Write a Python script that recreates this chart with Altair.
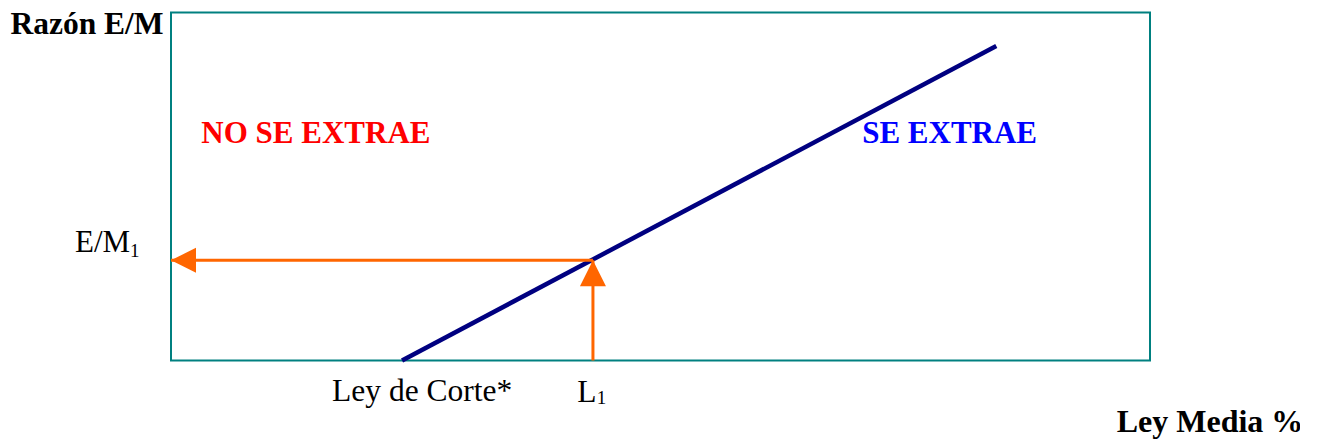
import altair as alt
import pandas as pd

# Values (x: Ley Media %, y: Razón E/M, both on 0-100 scales)
line_x = [23.6, 84.3]
line_y = [0.0, 90.4]
l1_x = 43.1
em1_y = 28.8

label_text = ["Razón E/M", "NO SE EXTRAE", "SE EXTRAE", "E/M", "1", "Ley de Corte*", "L", "1", "Ley Media %"]
label_x = [-16.4, 3.1, 70.6, -9.8, -4.2, 16.45, 41.5, 43.5, 96.6]
label_y = [93.9, 62.5, 62.5, 31.3, 29.8, -11.7, -11.9, -12.5, -20.5]
label_size = [31.5, 31, 31, 31, 19, 31.5, 31.5, 19, 32]
label_weight = ["bold", "bold", "bold", "normal", "normal", "normal", "normal", "normal", "bold"]
label_color = ["#000000", "#FF0000", "#0000FF", "#000000", "#000000", "#000000", "#000000", "#000000", "#000000"]

FONT = "Liberation Serif"
ORANGE = "#FF6600"
NAVY = "#000080"

xs = alt.Scale(domain=[0, 100], nice=False, zero=False)
ys = alt.Scale(domain=[0, 100], nice=False, zero=False)
noax = None

line_df = pd.DataFrame({"x": line_x, "y": line_y})
main_line = alt.Chart(line_df).mark_line(color=NAVY, strokeWidth=4.5, clip=False).encode(
    x=alt.X("x:Q", scale=xs, axis=noax),
    y=alt.Y("y:Q", scale=ys, axis=noax),
)

arrows_df = pd.DataFrame({
    "x": [l1_x, l1_x],
    "x2": [0.0, l1_x],
    "y": [em1_y, 0.0],
    "y2": [em1_y, em1_y],
})
arrow_lines = alt.Chart(arrows_df).mark_rule(color=ORANGE, strokeWidth=3, clip=False).encode(
    x=alt.X("x:Q", scale=xs, axis=noax),
    x2="x2:Q",
    y=alt.Y("y:Q", scale=ys, axis=noax),
    y2="y2:Q",
)

head_left = alt.Chart(pd.DataFrame({"x": [0.0], "y": [em1_y]})).mark_point(
    shape="M0,0L2,-1L2,1Z", filled=True, size=625, color=ORANGE, opacity=1, strokeWidth=0, clip=False
).encode(x=alt.X("x:Q", scale=xs, axis=noax), y=alt.Y("y:Q", scale=ys, axis=noax))

head_up = alt.Chart(pd.DataFrame({"x": [l1_x], "y": [em1_y]})).mark_point(
    shape="M0,0L1,2L-1,2Z", filled=True, size=676, color=ORANGE, opacity=1, strokeWidth=0, clip=False
).encode(x=alt.X("x:Q", scale=xs, axis=noax), y=alt.Y("y:Q", scale=ys, axis=noax))

labels_df = pd.DataFrame({
    "t": label_text, "x": label_x, "y": label_y,
    "s": label_size, "w": label_weight, "c": label_color,
})

texts = []
for i in range(len(labels_df)):
    row = labels_df.iloc[[i]]
    texts.append(
        alt.Chart(row).mark_text(
            align="left", baseline="alphabetic", font=FONT,
            fontSize=float(label_size[i]), fontWeight=label_weight[i], color=label_color[i], clip=False
        ).encode(
            x=alt.X("x:Q", scale=xs, axis=noax),
            y=alt.Y("y:Q", scale=ys, axis=noax),
            text="t:N",
        )
    )

chart = alt.layer(main_line, arrow_lines, head_left, head_up, *texts).properties(
    width=979, height=348,
    autosize=alt.AutoSizeParams(type="none"),
    padding={"left": 163, "top": 4.5, "right": 150, "bottom": 81.5},
    background="white",
).configure_view(stroke="#008080", strokeWidth=2)

chart.save("out.html", embed_options={"renderer": "svg", "actions": False})
